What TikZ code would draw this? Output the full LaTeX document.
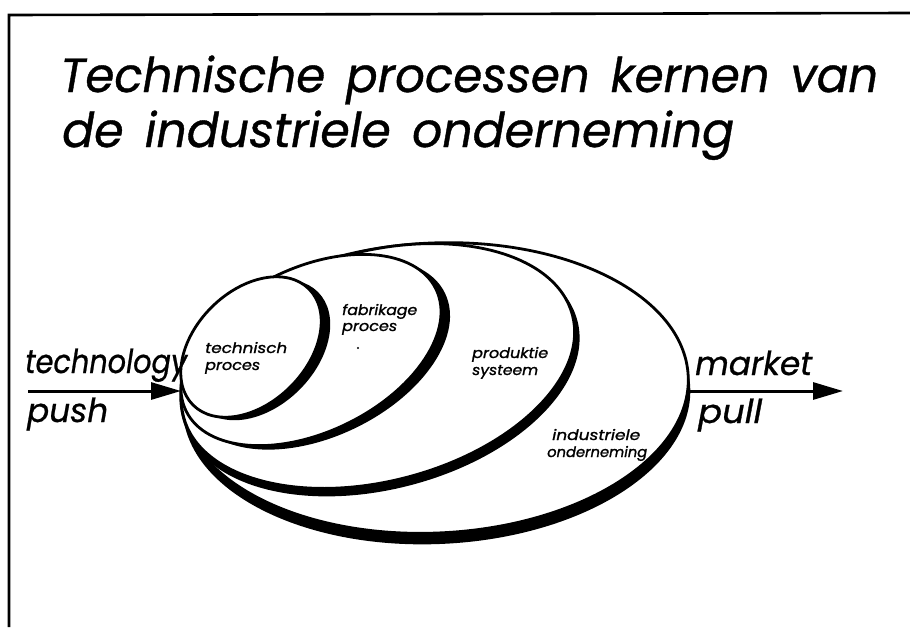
\documentclass[tikz,border=0pt]{standalone}
\usepackage{graphicx}
\usepackage{fontspec}
\setmainfont{Poppins}
\newfontfamily\labelfont{Poppins}[FakeBold=1.2]
\newfontfamily\headfont{Poppins}[FakeBold=0.8]
\usetikzlibrary{arrows.meta}
\newcommand\myoval[9]{%
  \fill[black,rotate around={#5:(#1+#6,#2+#7)}] (#1+#6,#2+#7) ellipse [x radius=#3+#8, y radius=#4+#9];
  \filldraw[fill=white,draw=black,line width=2.8pt,rotate around={#5:(#1,#2)}] (#1,#2) ellipse [x radius=#3, y radius=#4];}
\newcommand\fitw[2]{\resizebox{#1}{\height}{#2}}
\newcommand\titlefont{\headfont\fontsize{48}{48}\selectfont\itshape\spaceskip=0.45em\relax}
\newcommand\bigfont{\headfont\fontsize{33}{33}\selectfont\itshape}
\newcommand\smallfont{\labelfont\fontsize{14.5}{14.5}\selectfont\itshape}
\tikzset{
  arr/.style={line width=3pt,-{Triangle[length=30pt,width=17pt]}},
  title/.style={anchor=base west,inner sep=0pt,font={\titlefont}},
  big/.style={anchor=base west,inner sep=0pt,font={\bigfont}},
  small/.style={anchor=base west,inner sep=0pt,font={\smallfont}},
}
\begin{document}
\begin{tikzpicture}[x=1pt,y=-1pt]
\useasboundingbox (0,0) rectangle (910,627);
% frame
\draw[line width=2.6pt] (9,627) -- (9,15) -- (910,13);
% title
\node[title] (t1) at (60,92) {\fitw{818pt}{Technische processen kernen van}};
\node[title] (t2) at (62,147) {\fitw{672pt}{de industriele onderneming}};
% ellipses: cx cy a b angle dx dy da db
\myoval{434.5}{388}{254}{145}{2.7}{2}{11}{0}{0}
\myoval{378}{366}{201}{115}{14.7}{3}{6}{2}{2}
\myoval{311}{350}{139}{82}{26}{9}{4}{0}{0}
\myoval{251}{347}{82}{56}{45}{9}{3}{0}{0}
% labels
\node[small] (l1a) at (205,353) {\fitw{82pt}{technisch}};
\node[small] (l1b) at (205,370) {\fitw{55pt}{proces}};
\node[small] (l2a) at (342,315) {\fitw{75pt}{fabrikage}};
\node[small] (l2b) at (342,331) {\fitw{55pt}{proces}};
\fill (358,348) circle (1.2pt);
\node[small] (l3a) at (472,358) {\fitw{76pt}{produktie}};
\node[small] (l3b) at (472,375) {\fitw{66pt}{systeem}};
\node[small] (l4a) at (552,440) {\fitw{88pt}{industriele}};
\node[small] (l4b) at (547,457) {\fitw{100pt}{onderneming}};
% arrows
\coordinate (tpL) at (28,391);
\coordinate (tpR) at (181,391);
\draw[arr] (tpL) -- (tpR);
\coordinate (mpL) at (688,391);
\coordinate (mpR) at (843,391);
\draw[arr] (mpL) -- (mpR);
\node[big] (tech) at (25,373) {\fitw{162pt}{technology}};
\node[big] (push) at (27,422) {\fitw{81pt}{push}};
\node[big] (mark) at (695,375) {\fitw{117pt}{market}};
\node[big] (pull) at (698,423) {\fitw{64pt}{pull}};
\end{tikzpicture}
\end{document}
